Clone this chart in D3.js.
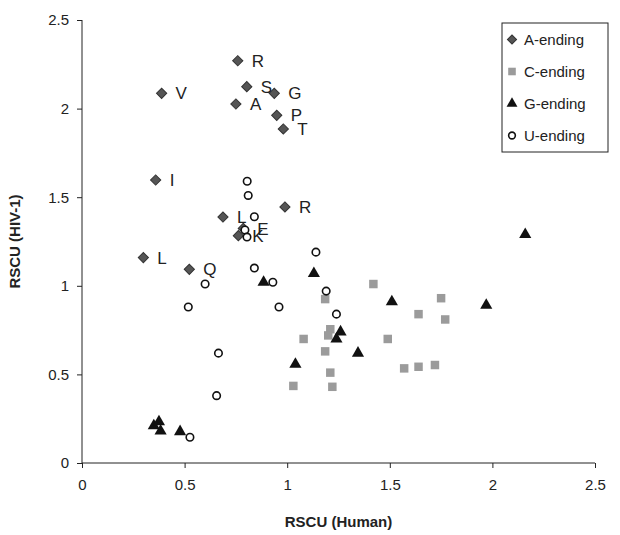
<!DOCTYPE html>
<html><head><meta charset="utf-8">
<script src="https://cdn.jsdelivr.net/npm/d3@7"></script>
<style>body{margin:0;background:#fff;} svg{display:block;font-family:"Liberation Sans",Arial,sans-serif;}</style>
</head><body>
<svg id="c" width="620" height="535"></svg>
<script>
// A-ending (labelled)
const aLabels = ["R","V","S","G","A","P","T","I","L","R","E","K","L","Q"];
const aX = [0.759,0.388,0.803,0.937,0.750,0.949,0.981,0.359,0.687,0.989,0.786,0.762,0.299,0.523];
const aY = [2.270,2.086,2.124,2.086,2.026,1.962,1.885,1.597,1.388,1.445,1.324,1.283,1.159,1.093];
// C-ending
const cX = [1.42,1.75,1.185,1.64,1.77,1.21,1.20,1.08,1.49,1.185,1.21,1.57,1.64,1.72,1.03,1.22];
const cY = [1.01,0.93,0.925,0.84,0.81,0.755,0.72,0.70,0.70,0.63,0.51,0.534,0.543,0.553,0.435,0.43];
// G-ending
const gX = [1.13,0.885,1.51,1.97,2.16,1.26,1.24,1.345,1.04,0.35,0.375,0.383,0.478];
const gY = [1.07,1.02,0.91,0.89,1.29,0.74,0.70,0.62,0.557,0.21,0.233,0.18,0.177];
// U-ending
const uX = [0.805,0.81,0.84,0.794,0.804,1.14,0.84,0.93,0.60,1.19,0.518,0.96,1.24,0.665,0.656,0.526];
const uY = [1.59,1.51,1.39,1.315,1.275,1.19,1.10,1.02,1.01,0.97,0.88,0.88,0.84,0.62,0.38,0.145];
const xTicks = [0,0.5,1,1.5,2,2.5];
const yTicks = [0,0.5,1,1.5,2,2.5];
const legendLabels = ["A-ending","C-ending","G-ending","U-ending"];

const svg = d3.select("#c");
const L = 82, R = 595, T = 20, B = 463;
const x = d3.scaleLinear().domain([0,2.5]).range([L,R]);
const y = d3.scaleLinear().domain([0,2.5]).range([B,T]);

const xAxis = svg.append("g").attr("transform",`translate(0,${B})`)
  .call(d3.axisBottom(x).tickValues(xTicks).tickFormat(d3.format("")).tickSize(5).tickPadding(11));
const yAxis = svg.append("g").attr("transform",`translate(${L},0)`)
  .call(d3.axisLeft(y).tickValues(yTicks).tickFormat(d3.format("")).tickSize(5).tickPadding(8));
[xAxis,yAxis].forEach(a=>{
  a.selectAll("path,line").attr("stroke","#222").attr("stroke-width",1);
  a.selectAll("path").attr("d", null);
  a.selectAll("text").attr("font-size",15).attr("fill","#222").attr("font-family","Liberation Sans, Arial, sans-serif");
});
svg.append("line").attr("x1",L).attr("x2",R).attr("y1",B).attr("y2",B).attr("stroke","#222");
svg.append("line").attr("x1",L).attr("x2",L).attr("y1",T).attr("y2",B).attr("stroke","#222");

svg.append("text").attr("x",(L+R)/2).attr("y",527).attr("text-anchor","middle")
  .attr("font-size",15).attr("font-weight","bold").attr("fill","#222").text("RSCU (Human)");
svg.append("text").attr("transform",`translate(20,${(T+B)/2}) rotate(-90)`).attr("text-anchor","middle")
  .attr("font-size",15).attr("font-weight","bold").attr("fill","#222").text("RSCU (HIV-1)");

const styles = [
  {sym:d3.symbolSquare, size:52, fill:"#555", stroke:"#333", rot:45, sw:1},
  {sym:d3.symbolSquare, size:72, fill:"#9b9b9b", stroke:"none", rot:0, sw:0},
  {sym:d3.symbolTriangle, size:64, fill:"#111", stroke:"none", rot:0, sw:0},
  {sym:d3.symbolCircle, size:44, fill:"#fff", stroke:"#111", rot:0, sw:1.6}
];
const series = [
  aX.map((v,i)=>[v,aY[i]]),
  cX.map((v,i)=>[v,cY[i]]),
  gX.map((v,i)=>[v,gY[i]]),
  uX.map((v,i)=>[v,uY[i]])
];
series.forEach((pts,si)=>{
  const s = styles[si];
  svg.append("g").selectAll("path").data(pts).join("path")
    .attr("d", d3.symbol().type(s.sym).size(s.size))
    .attr("transform", d=>`translate(${x(d[0])},${y(d[1])}) rotate(${s.rot})`)
    .attr("fill", s.fill).attr("stroke", s.stroke).attr("stroke-width", s.sw);
});
svg.append("g").selectAll("text").data(aLabels).join("text")
  .attr("x",(d,i)=>x(aX[i])+14).attr("y",(d,i)=>y(aY[i])).attr("dy","0.36em")
  .attr("font-size",17).attr("fill","#222").text(d=>d);

// legend
const lg = svg.append("g");
lg.append("rect").attr("x",502).attr("y",23).attr("width",106).attr("height",129)
  .attr("fill","#fff").attr("stroke","#222").attr("stroke-width",1);
legendLabels.forEach((t,i)=>{
  const s = styles[i];
  const cy = 39.5 + i*32;
  lg.append("path").attr("d", d3.symbol().type(s.sym).size(s.size*0.8))
    .attr("transform",`translate(512,${cy}) rotate(${s.rot})`)
    .attr("fill", s.fill).attr("stroke", s.stroke).attr("stroke-width", s.sw);
  lg.append("text").attr("x",524).attr("y",cy).attr("dy","0.36em").attr("font-size",15)
    .attr("fill","#222").text(t);
});
</script>
</body></html>
